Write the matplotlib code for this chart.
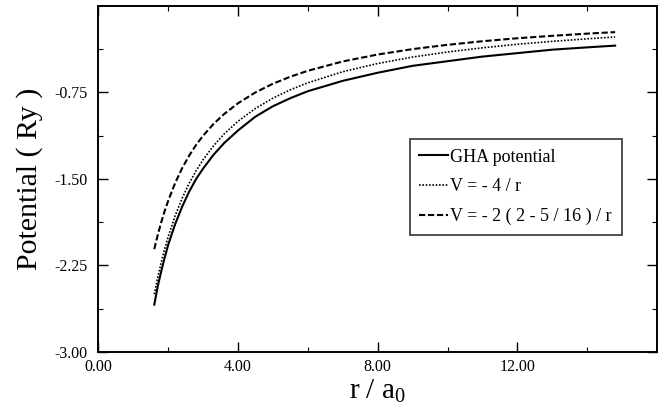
import matplotlib.pyplot as plt
from matplotlib.ticker import FixedLocator, FormatStrFormatter

# values
r = [1.6, 1.7, 1.8, 1.9, 2.0, 2.2, 2.4, 2.6, 2.8, 3.0, 3.3, 3.6, 4.0, 4.5,
     5.0, 5.5, 6.0, 7.0, 8.0, 9.0, 10.0, 11.0, 12.0, 13.0, 14.0, 14.8]
v_gha = [-2.59, -2.43, -2.30, -2.18, -2.07, -1.89, -1.74, -1.61, -1.50, -1.41,
         -1.29, -1.19, -1.08, -0.96, -0.87, -0.80, -0.74, -0.65, -0.58, -0.52,
         -0.48, -0.44, -0.41, -0.38, -0.36, -0.345]
v_coul = [-2.500, -2.353, -2.222, -2.105, -2.000, -1.818, -1.667, -1.538, -1.429,
          -1.333, -1.212, -1.111, -1.000, -0.889, -0.800, -0.727, -0.667, -0.571,
          -0.500, -0.444, -0.400, -0.364, -0.333, -0.308, -0.286, -0.270]
v_scr = [-2.109, -1.985, -1.875, -1.776, -1.688, -1.534, -1.406, -1.298, -1.205,
         -1.125, -1.023, -0.938, -0.844, -0.750, -0.675, -0.614, -0.563, -0.482,
         -0.422, -0.375, -0.338, -0.307, -0.281, -0.260, -0.241, -0.228]

labels = ['GHA potential', 'V = - 4 / r', 'V = - 2 ( 2 - 5 / 16 ) / r']
xticks = [0, 4, 8, 12]
yticks = [-3.0, -2.25, -1.5, -0.75]

plt.rcParams['font.family'] = ['Liberation Serif', 'DejaVu Serif']
plt.rcParams['mathtext.fontset'] = 'custom'
plt.rcParams['mathtext.rm'] = 'Liberation Serif'
plt.rcParams['mathtext.it'] = 'Liberation Serif'

fig = plt.figure(figsize=(6.65, 4.16), dpi=100)
ax = fig.add_axes([0.148, 0.154, 0.840, 0.832])

ax.plot(r, v_gha, color='black', lw=1.5, ls='-', label=labels[0])
ax.plot(r, v_coul, color='black', lw=1.2, ls=(0, (1, 1)), label=labels[1])
ax.plot(r, v_scr, color='black', lw=1.5, ls=(0, (3, 1.3)), label=labels[2])

ax.set_xlim(0, 16)
ax.set_ylim(-3.0, 0.0)
ax.xaxis.set_major_locator(FixedLocator(xticks))
ax.xaxis.set_minor_locator(FixedLocator([2, 6, 10, 14]))
ax.yaxis.set_major_locator(FixedLocator(yticks))
ax.yaxis.set_minor_locator(FixedLocator([-2.625, -1.875, -1.125, -0.375]))
ax.xaxis.set_major_formatter(FormatStrFormatter('%.2f'))
ax.yaxis.set_major_formatter(FormatStrFormatter('%.2f'))
ax.tick_params(which='both', direction='in', top=True, right=True, labelsize=11.5)
ax.tick_params(axis='y', which='major', pad=8)
ax.tick_params(axis='x', which='major', pad=5)
ax.tick_params(which='major', length=7, width=1.0)
ax.tick_params(which='minor', length=3.5, width=0.8)
for s in ax.spines.values():
    s.set_linewidth(1.4)

ax.set_ylabel('Potential ( Ry )', fontsize=21.5)
ax.yaxis.set_label_coords(-0.10, 0.5)
ax.set_xlabel(r'r / a$_{\mathrm{0}}$', fontsize=21, labelpad=2)

leg = ax.legend(loc='upper left', bbox_to_anchor=(0.557, 0.616), fontsize=13,
                frameon=True, fancybox=False, edgecolor='black',
                handlelength=1.6, handletextpad=0.1, borderpad=0.55,
                borderaxespad=0, labelspacing=0.7)
leg.get_frame().set_linewidth(1.2)

fig.savefig('out.png', dpi=100)
